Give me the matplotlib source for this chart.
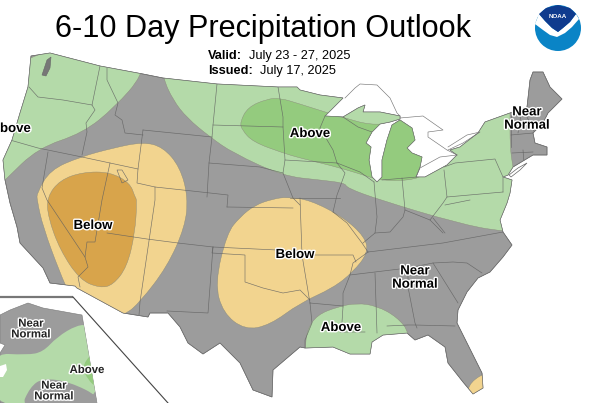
import matplotlib
matplotlib.use('Agg')
import matplotlib.pyplot as plt
import matplotlib.patheffects as pe
from matplotlib.patches import Polygon, Circle, PathPatch
from matplotlib.path import Path

plt.rcParams['font.family'] = ['Liberation Sans', 'DejaVu Sans']

conus = [(31,56),(50,53),(100,66),(143,74),(163,78),(217,84),(278,87),(297,87),(300,90),(320,95),(343,98),
         (325,116),(343,117),(358,108),(365,105),(363,112),(380,112),(400,116),(400,119),(390,122),(380,124),
         (372,132),(366,143),(371,147),(369,160),(372,177),(377,182),(382,177),(382,160),(387,140),(392,125),
         (400,120),(412,128),(415,140),(407,148),(412,153),(422,157),(420,167),(416,177),(425,177),(447,165),
         (457,155),(450,150),(460,147),(478,133),(485,122),(510,113),(527,107),(530,80),(533,72),(543,72),
         (550,87),(562,99),(548,113),(543,123),(533,133),(535,143),(547,147),(547,155),(533,155),(513,167),
         (508,175),(503,177),(512,180),(510,193),(507,203),(500,220),(503,232),(512,245),(503,257),(490,272),
         (478,278),(467,292),(458,310),(457,323),(467,343),(482,373),(483,388),(473,394),(463,382),(448,363),
         (445,347),(428,335),(415,340),(407,333),(383,335),(372,342),(370,354),(350,354),(333,347),(305,348),
         (300,347),(273,370),(272,397),(253,390),(240,363),(220,343),(203,354),(188,343),(180,327),(168,313),
         (150,313),(148,317),(123,313),(77,288),(75,286),(50,283),(43,268),(20,243),(17,227),(10,203),(5,180),
         (3,160),(12,140),(20,113),(28,87)]
above_west = [(0,185),(5,180),(38,148),(83,133),(115,107),(143,75),(143,50),(0,50)]
above_north = [(163,78),(173,100),(187,118),(210,137),(233,153),(283,176),(320,180),(345,183),(347,188),(380,200),
               (457,223),(503,232),(560,232),(560,180),(515,175),(513,168),(510,147),(510,113),(510,60),(163,60)]
above_dark = [(325,112),(345,118),(370,125),(395,123),(402,118),(425,130),(430,170),(416,180),(382,181),(357,173),
              (333,166),(300,158),(283,153),(253,142),(242,130),(240,122),(248,107),(267,99),(280,98),(300,104)]
below_west = [(37,193),(50,170),(80,157),(113,148),(143,142),(163,147),(180,167),(188,197),(185,227),(167,267),
              (140,302),(125,315),(100,320),(70,295),(60,273),(43,227),(37,200)]
below_west_dark = [(47,197),(60,180),(83,172),(110,172),(130,183),(135,197),(137,200),(135,233),(127,267),(113,285),
                   (100,288),(80,280),(60,250),(48,217)]
below_central = [(227,233),(240,217),(255,205),(273,199),(287,197),(310,200),(343,217),(365,237),(368,253),(353,272),
                 (333,288),(300,303),(270,325),(245,330),(223,313),(215,283)]
above_gulf = [(305,350),(307,330),(317,315),(337,307),(357,303),(377,306),(397,317),(410,333),(410,370),(305,370)]
below_fl = [(468,385),(482,374),(490,374),(490,400),(468,400)]

shore_lines = [
    [(345,98),(355,88),(360,84),(377,85),(390,98),(397,113),(400,116)],
    [(400,118),(423,116),(443,130),(428,132),(428,137),(447,150),(457,155)],
    [(416,177),(420,168),(440,157),(457,155)],
    [(448,147),(467,135),(480,132),(463,143),(448,150)],
]
long_island = [(509,175),(518,168),(527,163),(520,170),(511,177)]
puget = [(42,75),(47,60),(51,57),(50,68),(46,76)]
salt_lake = [(117,170),(122,170),(128,180),(122,183)]

state_lines = [
    [(29,87),(38,97),(63,100),(92,105)], [(100,66),(92,105),(95,110),(86,123),(87,132),(82,155)],
    [(10,140),(38,148),(82,157),(110,163),(138,169)], [(107,68),(107,80),(118,103),(115,115),(122,120),(125,133),(143,135)],
    [(143,130),(138,169),(137,183),(155,187),(192,191),(228,195),(227,207)], [(143,130),(212,137)],
    [(217,84),(213,125),(212,137),(209,163),(207,197)], [(213,125),(283,127)],
    [(278,87),(283,117),(283,127),(285,160),(283,173)], [(209,163),(260,167),(283,173),(293,198),(300,205)],
    [(227,207),(293,208)], [(155,187),(155,200),(140,302),(139,315)], [(107,233),(147,239),(178,243),(213,247),(277,250),(302,251)],
    [(303,255),(353,255),(356,262)], [(368,252),(443,243),(503,232)], [(350,275),(408,268),(433,263),(453,262),(467,263),(482,273)],
    [(433,263),(458,303)], [(408,268),(408,287),(415,323),(417,328)], [(387,326),(408,325),(415,325),(455,326)],
    [(375,273),(377,333)], [(343,307),(342,322),(340,332),(365,332)], [(310,303),(343,306)], [(310,303),(312,323),(305,340),(305,348)],
    [(368,252),(353,263),(350,275),(343,293),(343,307)], [(333,212),(347,223),(362,243),(368,252)],
    [(300,198),(302,255),(305,273),(310,303)], [(290,198),(340,198)], [(320,128),(325,116)], [(320,128),(333,150),(337,163),(345,173),(340,187),(337,195),(333,212)],
    [(285,160),(337,163)], [(337,163),(360,172),(374,182)], [(374,182),(377,217),(375,233),(363,243)],
    [(375,233),(390,232),(403,217),(405,210),(402,178)], [(382,180),(417,177)], [(405,210),(430,220),(443,203),(447,197),(444,170)],
    [(444,167),(455,163),(495,159),(503,177),(503,192)], [(447,197),(503,192)], [(433,218),(445,233)], [(445,205),(470,200)],
    [(430,220),(443,233)], [(511,115),(511,147)], [(518,133),(521,115)], [(527,117),(535,133)], [(511,135),(533,133)],
    [(512,153),(533,152)], [(523,150),(524,163)], [(213,247),(212,253),(245,255),(245,282),(263,288),(283,293),(300,290),(310,300)],
    [(213,247),(208,313),(167,311)], [(48,152),(42,188),(47,200),(85,257),(88,267),(78,277),(80,287)],
    [(110,163),(102,200),(95,242),(87,242),(85,257)], [(343,117),(358,127),(372,132)],
]

alaska = [(0,315),(10,310),(28,303),(43,308),(82,315),(97,403),(0,403),(0,353),(5,345),(0,343)]
ak_above = [(-10,353),(27,355),(43,352),(57,337),(77,325),(90,325),(105,410),(-10,410)]
ak_above_dark = [(90,355),(82,367),(88,380),(97,388),(97,350)]
ak_gray_south = [(20,410),(30,387),(43,378),(70,382),(100,397),(100,410)]
ak_lake = [(0,366),(6,364),(7,370),(3,377),(0,377)]
inset_rule = [(0,297),(73,297)]
inset_leader = [(73,297),(168,403)]

# noaa logo
logo_dome = [(539,14),(546,8),(558,5),(570,8),(576,14),(570,22),(563,28),(558,32),(552,28),(545,21)]
logo_band = [(535,24),(539,14),(545,21),(552,28),(558,32),(563,28),(570,22),(576,14),(579,19),(572,27),
             (565,33),(557,37),(550,35),(543,30)]

title = '6-10 Day Precipitation Outlook'
big_labels = [('bove', 0, 129, 'left'), ('Above', 310, 134, 'center'), ('Near\nNormal', 527, 119, 'center'),
              ('Below', 93, 226, 'center'), ('Below', 295, 255, 'center'), ('Near\nNormal', 415, 278, 'center'),
              ('Above', 341, 328, 'center')]
ak_labels = [('Near\nNormal', 31, 329), ('Above', 87, 370), ('Near\nNormal', 54, 391)]

GRAY = '#9c9c9c'
GREEN = '#b4daa9'
DKGREEN = '#94cb7e'
TAN = '#f2d48f'
DKTAN = '#d8a44b'
LINE = '#606060'


def smooth_patch(pts, **kw):
    # closed curve that rounds the corners of pts
    mids = [((pts[i][0] + pts[(i + 1) % len(pts)][0]) / 2, (pts[i][1] + pts[(i + 1) % len(pts)][1]) / 2)
            for i in range(len(pts))]
    verts = [mids[-1]]
    codes = [Path.MOVETO]
    for i in range(len(pts)):
        verts += [pts[i], mids[i]]
        codes += [Path.CURVE3, Path.CURVE3]
    return PathPatch(Path(verts, codes), **kw)


fig = plt.figure(figsize=(6, 4.03), dpi=100)
ax = fig.add_axes([0, 0, 1, 1])
ax.set_xlim(0, 600)
ax.set_ylim(403, 0)
ax.axis('off')

land = Polygon(conus, closed=True, facecolor=GRAY, edgecolor='#777777', linewidth=0.5, zorder=1)
ax.add_patch(land)
for pts, col in [(above_west, GREEN), (above_north, GREEN), (above_dark, DKGREEN), (below_west, TAN),
                 (below_west_dark, DKTAN), (below_central, TAN), (above_gulf, GREEN), (below_fl, TAN)]:
    p = smooth_patch(pts, facecolor=col, edgecolor='#8a8a7a', linewidth=0.3, zorder=2)
    ax.add_patch(p)
    p.set_clip_path(land)

for seg in state_lines:
    xs, ys = zip(*seg)
    line = ax.plot(xs, ys, color=LINE, lw=0.45, alpha=0.85, zorder=3)[0]
    line.set_clip_path(land)
ax.add_patch(Polygon(conus, closed=True, fill=False, edgecolor='#6a6a6a', linewidth=0.4, zorder=4))
for seg in shore_lines:
    xs, ys = zip(*seg)
    ax.plot(xs, ys, color='#777777', lw=0.45, zorder=4)
ax.add_patch(Polygon(long_island, closed=True, facecolor='white', edgecolor='#666666', linewidth=0.5, zorder=4))
ax.add_patch(Polygon(puget, closed=True, facecolor='#777777', edgecolor='#666666', linewidth=0.4, zorder=4))
ax.add_patch(Polygon(salt_lake, closed=True, fill=False, edgecolor='#666666', linewidth=0.4, zorder=4))

# alaska inset
ak = Polygon(alaska, closed=True, facecolor=GRAY, edgecolor='#777777', linewidth=0.4, zorder=1)
ax.add_patch(ak)
for pts, col in [(ak_above, GREEN), (ak_above_dark, DKGREEN), (ak_gray_south, GRAY)]:
    p = smooth_patch(pts, facecolor=col, edgecolor='none', zorder=2)
    ax.add_patch(p)
    p.set_clip_path(ak)
ax.add_patch(Polygon(ak_lake, closed=True, facecolor='white', edgecolor='none', zorder=3))
ax.plot(*zip(*inset_rule), color='#777777', lw=1.6, zorder=5, solid_capstyle='butt')
ax.plot(*zip(*inset_leader), color='#444444', lw=0.8, zorder=5)

# title block
ax.text(263, 29, title, fontsize=22.1, ha='center', va='center', color='black', zorder=6)
ax.text(208, 56, 'Valid:', fontsize=9.2, fontweight='bold', va='center', zorder=6)
ax.text(249, 56, 'July 23 - 27, 2025', fontsize=9.2, va='center', zorder=6)
ax.text(208, 71, 'Issued:', fontsize=9.2, fontweight='bold', va='center', zorder=6)
ax.text(260, 71, 'July 17, 2025', fontsize=9.2, va='center', zorder=6)

halo = [pe.withStroke(linewidth=2, foreground='white')]
for txt, x, y, ha in big_labels:
    ax.text(x, y, txt, fontsize=9.5, fontweight='bold', ha=ha, va='center', linespacing=1.15,
            path_effects=halo, zorder=7, color='black')
for txt, x, y in ak_labels:
    ax.text(x, y, txt, fontsize=8.2, fontweight='bold', ha='center', va='center', linespacing=1.1,
            color='#222222', path_effects=halo, zorder=7)

# noaa logo
ax.add_patch(Circle((558, 28), 23, facecolor='#0a84c6', edgecolor='none', zorder=6))
ax.add_patch(Polygon(logo_band, closed=True, facecolor='white', edgecolor='none', zorder=7))
ax.add_patch(Polygon(logo_dome, closed=True, facecolor='#0f3b8e', edgecolor='none', zorder=7))
ax.text(558, 17, 'NOAA', fontsize=4.5, color='white', ha='center', va='center', zorder=8, fontweight='bold')

fig.savefig('out.png', dpi=100, facecolor='white')
